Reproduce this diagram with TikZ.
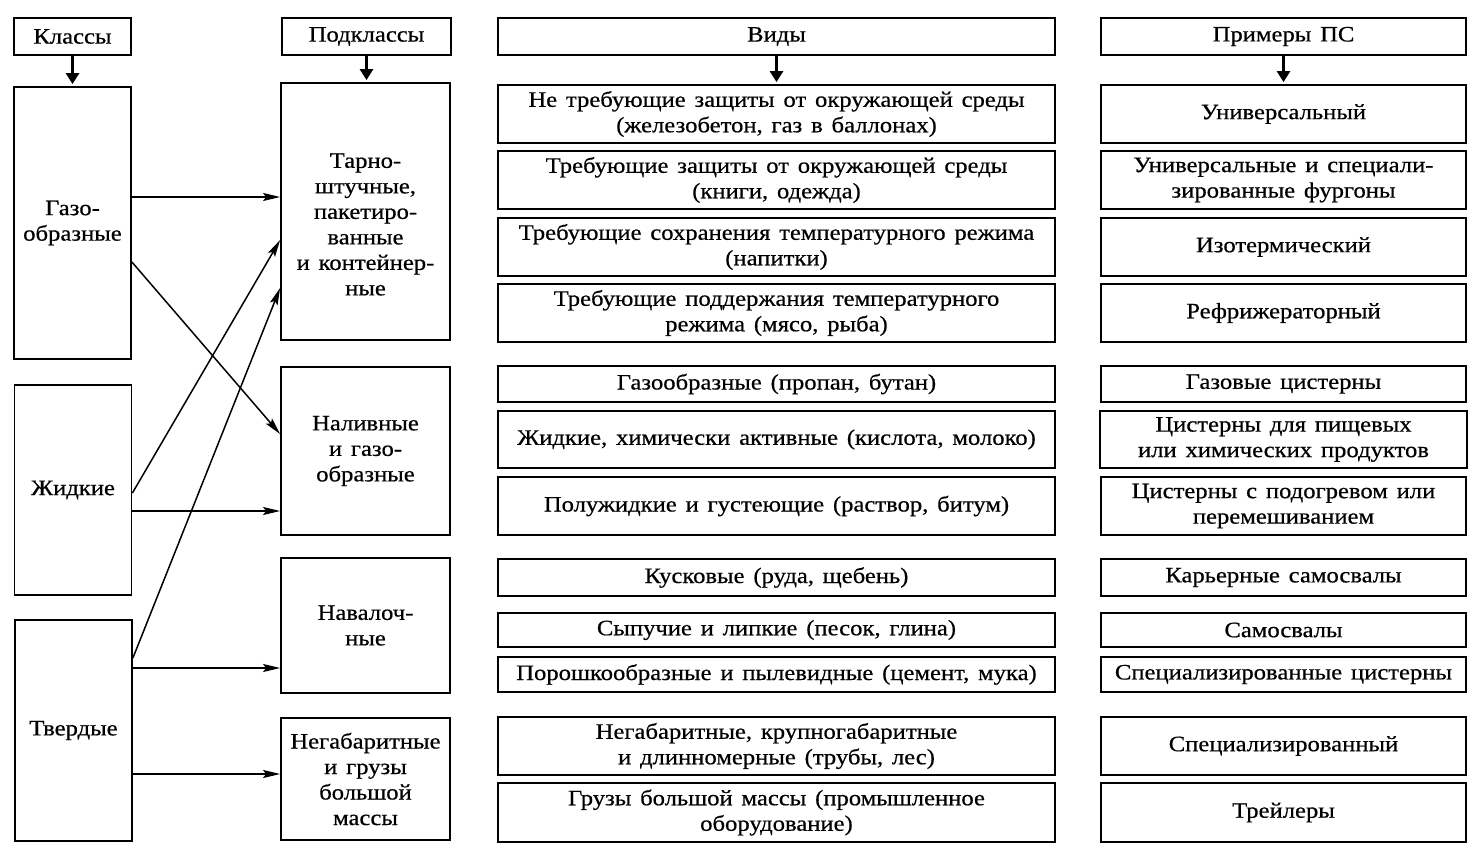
\documentclass[tikz,border=0pt]{standalone}
\usepackage{fontspec}
\setmainfont[FakeStretch=1.12,FakeBold=0.5]{Liberation Serif}
\usetikzlibrary{arrows.meta,calc}
\newcommand\diagfont{\fontsize{22}{25.5}\selectfont\spaceskip=0.4em plus 0.1em minus 0.1em\relax}
\begin{document}
\begin{tikzpicture}[x=1pt,y=-1pt,
  box/.style={draw, line width=1.8pt, inner sep=0pt, align=center, font=\diagfont},
  txt/.style={inner sep=0pt, align=center, font=\diagfont},
  hdr/.style={-{Triangle[length=11pt,width=13pt]}, line width=3pt, shorten >=2pt},
  link/.style={-{Stealth[length=17pt,width=8pt,inset=3pt]}, line width=1.5pt}]
\useasboundingbox[fill=white] (0,0) rectangle (1474,857);

% ---- column 1: classes
\node[box, minimum width=117pt, minimum height=37pt] (hK) at (72.5,36.5) {Классы};
\node[box, minimum width=117pt, minimum height=272pt] (kG) at (72.5,223) {Газо-\\образные};
\node[box, minimum width=117pt, minimum height=210pt] (kZ) at (73,490) {Жидкие};
\node[box, minimum width=117pt, minimum height=221pt] (kT) at (73.5,730.5) {Твердые};

% ---- column 2: subclasses
\node[box, minimum width=169pt, minimum height=37pt] (hS) at (366.5,36.5) {Подклассы};
\node[box, minimum width=169pt, minimum height=257pt] (s1) at (365.5,211.5) {};
\node[txt] (s1t) at (365.5,224.5) {Тарно-\\штучные,\\пакетиро-\\ванные\\и контейнер-\\ные};
\node[box, minimum width=169pt, minimum height=168pt] (s2) at (365.5,451) {Наливные\\и газо-\\образные};
\node[box, minimum width=169pt, minimum height=135pt] (s3) at (365.5,625.5) {Навалоч-\\ные};
\node[box, minimum width=169pt, minimum height=122pt] (s4) at (365.5,779) {Негабаритные\\и грузы\\большой\\массы};

% ---- column 3: kinds
\node[box, minimum width=557pt, minimum height=37pt] (hV) at (776.5,36.5) {Виды};
\node[box, minimum width=557pt, minimum height=58pt] (v1) at (776.5,114) {Не требующие защиты от окружающей среды\\(железобетон, газ в баллонах)};
\node[box, minimum width=557pt, minimum height=58pt] (v2) at (776.5,180) {Требующие защиты от окружающей среды\\(книги, одежда)};
\node[box, minimum width=557pt, minimum height=58pt] (v3) at (776.5,247) {Требующие сохранения температурного режима\\(напитки)};
\node[box, minimum width=557pt, minimum height=58pt] (v4) at (776.5,313) {Требующие поддержания температурного\\режима (мясо, рыба)};
\node[box, minimum width=557pt, minimum height=36pt] (v5) at (776.5,384) {Газообразные (пропан, бутан)};
\node[box, minimum width=557pt, minimum height=57pt] (v6) at (776.5,439.5) {Жидкие, химически активные (кислота, молоко)};
\node[box, minimum width=557pt, minimum height=58pt] (v7) at (776.5,506) {Полужидкие и густеющие (раствор, битум)};
\node[box, minimum width=557pt, minimum height=37pt] (v8) at (776.5,577.5) {Кусковые (руда, щебень)};
\node[box, minimum width=557pt, minimum height=34pt] (v9) at (776.5,630) {Сыпучие и липкие (песок, глина)};
\node[box, minimum width=557pt, minimum height=35pt] (v10) at (776.5,674.5) {Порошкообразные и пылевидные (цемент, мука)};
\node[box, minimum width=557pt, minimum height=58pt] (v11) at (776.5,746) {Негабаритные, крупногабаритные\\и длинномерные (трубы, лес)};
\node[box, minimum width=557pt, minimum height=59pt] (v12) at (776.5,812.5) {Грузы большой массы (промышленное\\оборудование)};

% ---- column 4: examples
\node[box, minimum width=365pt, minimum height=37pt] (hP) at (1283.5,36.5) {Примеры ПС};
\node[box, minimum width=365pt, minimum height=58pt] (p1) at (1283.5,114) {Универсальный};
\node[box, minimum width=365pt, minimum height=58pt] (p2) at (1283.5,180) {Универсальные и специали-\\зированные фургоны};
\node[box, minimum width=365pt, minimum height=58pt] (p3) at (1283.5,247) {Изотермический};
\node[box, minimum width=365pt, minimum height=58pt] (p4) at (1283.5,313) {Рефрижераторный};
\node[box, minimum width=365pt, minimum height=36pt] (p5) at (1283.5,384) {Газовые цистерны};
\node[box, minimum width=367pt, minimum height=57pt] (p6) at (1283.5,439.5) {Цистерны для пищевых\\или химических продуктов};
\node[box, minimum width=365pt, minimum height=58pt] (p7) at (1283.5,506) {Цистерны с подогревом или\\перемешиванием};
\node[box, minimum width=365pt, minimum height=37pt] (p8) at (1283.5,577.5) {Карьерные самосвалы};
\node[box, minimum width=365pt, minimum height=34pt] (p9) at (1283.5,630) {Самосвалы};
\node[box, minimum width=365pt, minimum height=35pt] (p10) at (1283.5,674.5) {Специализированные цистерны};
\node[box, minimum width=365pt, minimum height=58pt] (p11) at (1283.5,746) {Специализированный};
\node[box, minimum width=365pt, minimum height=59pt] (p12) at (1283.5,812.5) {Трейлеры};

% ---- header arrows
\draw[hdr] (hK.south) -- (kG.north);
\draw[hdr] (hS.south) -- (s1.north -| hS.south);
\draw[hdr] (hV.south) -- (v1.north);
\draw[hdr] (hP.south) -- (p1.north);

% ---- class -> subclass links
\draw[link] ($(kG.east)+(0,-26)$) -- ($(s1.west)+(0,-14.5)$);
\draw[link] ($(kG.east)+(0,39)$) -- ($(s2.west)+(0,-17)$);
\draw[link] ($(kZ.east)+(0,3)$) -- ($(s1.west)+(0,28.5)$);
\draw[link] ($(kZ.east)+(0,21)$) -- ($(s2.west)+(0,60)$);
\draw[link] ($(kT.east)+(0,-72.5)$) -- ($(s1.west)+(0,76.5)$);
\draw[link] ($(kT.east)+(0,-62.5)$) -- ($(s3.west)+(0,42.5)$);
\draw[link] ($(kT.east)+(0,43.5)$) -- ($(s4.west)+(0,-5)$);
\end{tikzpicture}
\end{document}
